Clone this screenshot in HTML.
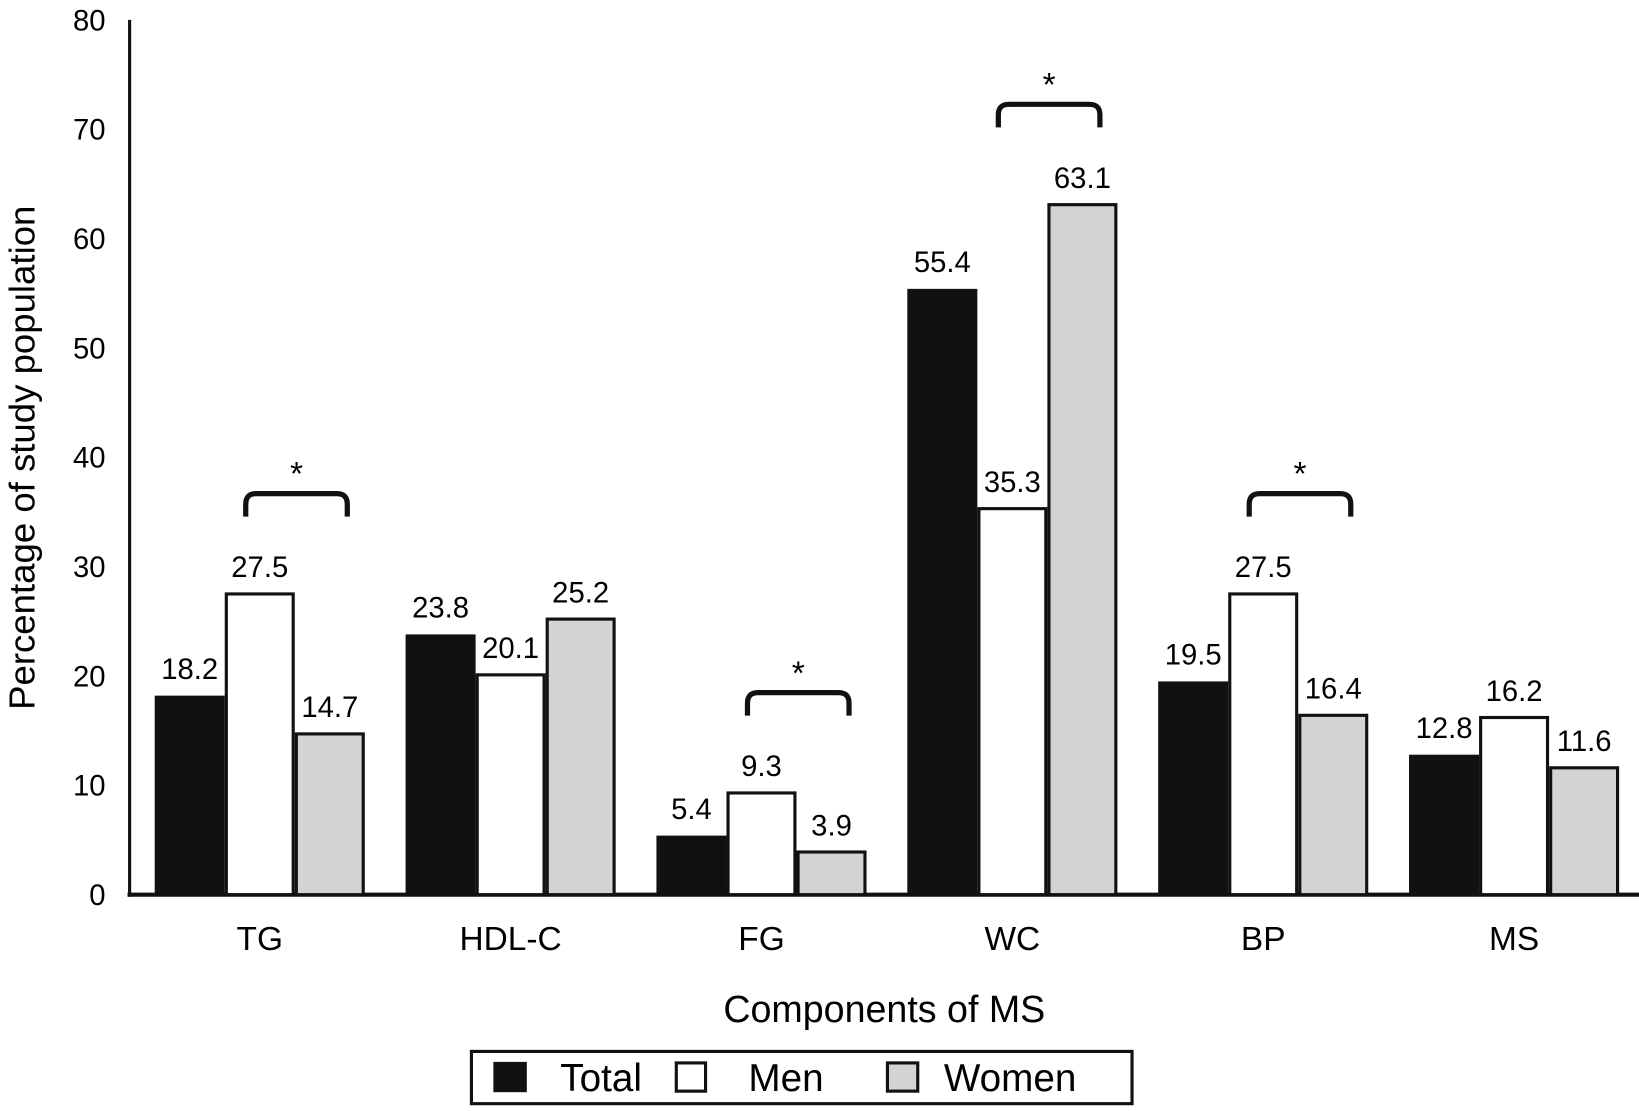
<!DOCTYPE html>
<html><head><meta charset="utf-8"><style>
html,body{margin:0;padding:0;background:#fff;width:1639px;height:1111px;overflow:hidden}
svg{display:block;font-family:"Liberation Sans",sans-serif}
</style></head><body>
<svg id="chart" width="1639" height="1111" viewBox="0 0 1568 1063" preserveAspectRatio="none" xmlns="http://www.w3.org/2000/svg">
<g id="axes"></g>
<g id="bars"></g>
<g id="labels"></g>
<g id="sig"></g>
<text transform="translate(33,438) rotate(-90)" text-anchor="middle" font-size="35">Percentage of study population</text>
<text x="846" y="978" text-anchor="middle" font-size="36">Components of MS</text>
<g>
<rect x="451" y="1006" width="632" height="50" fill="#fff" stroke="#111" stroke-width="3"/>
<rect x="472" y="1016" width="32" height="29" fill="#111"/>
<text x="536" y="1044" font-size="37">Total</text>
<rect x="647" y="1017" width="28" height="27" fill="#fff" stroke="#111" stroke-width="3"/>
<text x="716" y="1044" font-size="37">Men</text>
<rect x="849" y="1017" width="29" height="27" fill="#d3d3d3" stroke="#111" stroke-width="3"/>
<text x="903" y="1044" font-size="37">Women</text>
</g>
</svg>
<script>
const categories = ["TG","HDL-C","FG","WC","BP","MS"];
const totalVals = [18.2,23.8,5.4,55.4,19.5,12.8];
const menVals = [27.5,20.1,9.3,35.3,27.5,16.2];
const womenVals = [14.7,25.2,3.9,63.1,16.4,11.6];
const yTicks = [0,10,20,30,40,50,60,70,80];
const sigCats = ["TG","FG","WC","BP"];

const NS="http://www.w3.org/2000/svg";
const X0=124, Y0=856, YTOP=19, YMAX=80, G0=148, GSTEP=240, BW=67;
function y(v){return Y0-(v/YMAX)*(Y0-YTOP);}
function gx(i){return G0+i*GSTEP;}
function mk(p,tag,at){const e=document.createElementNS(NS,tag);for(const k in at)e.setAttribute(k,at[k]);p.appendChild(e);return e;}
const axes=document.getElementById('axes'),bars=document.getElementById('bars'),labels=document.getElementById('labels'),sig=document.getElementById('sig');

yTicks.forEach(t=>{
  const e=mk(axes,'text',{x:101,y:y(t)+10,'text-anchor':'end','font-size':28});
  e.textContent=t;
  
  
});
categories.forEach((c,i)=>{
  const e=mk(axes,'text',{x:gx(i)+1.5*BW,y:909,'text-anchor':'middle','font-size':32});
  e.textContent=c;
  
  
});

const series=[{v:totalVals,fill:'#111',stroke:'none',n:'total'},{v:menVals,fill:'#fff',stroke:'#111',n:'men'},{v:womenVals,fill:'#d3d3d3',stroke:'#111',n:'women'}];
categories.forEach((c,i)=>{
  series.forEach((s,j)=>{
    const val=s.v[i], x=gx(i)+j*BW, top=y(val);
    const r=mk(bars,'rect',{x:x+(s.stroke==='none'?0:1.5),y:top,width:BW-(s.stroke==='none'?0:3),height:Y0-top,fill:s.fill,stroke:s.stroke,'stroke-width':3});
    
    
    const t=mk(labels,'text',{x:x+BW/2,y:top-16,'text-anchor':'middle','font-size':28});
    t.textContent=val.toFixed(1);
    
    
  });
});

sigCats.forEach(c=>{
  const i=categories.indexOf(c);
  const top=Math.max(menVals[i],womenVals[i]);
  const by=y(top)-96;
  const x1=gx(i)+BW*1.3, x2=gx(i)+BW*2.75;
  const p=mk(sig,'path',{d:`M${x1},${by+22} L${x1},${by+10} Q${x1},${by} ${x1+10},${by} L${x2-10},${by} Q${x2},${by} ${x2},${by+10} L${x2},${by+22}`,fill:'none',stroke:'#111','stroke-width':5});
  
  
  const s=mk(sig,'text',{x:(x1+x2)/2,y:by-8,'text-anchor':'middle','font-size':32});
  s.textContent='*';
  
  
});

const ya=mk(axes,'line',{x1:X0,y1:YTOP,x2:X0,y2:Y0+2,stroke:'#111','stroke-width':3});


const xa=mk(axes,'line',{x1:X0-2,y1:Y0,x2:1568,y2:Y0,stroke:'#111','stroke-width':4});


</script>
</body></html>
